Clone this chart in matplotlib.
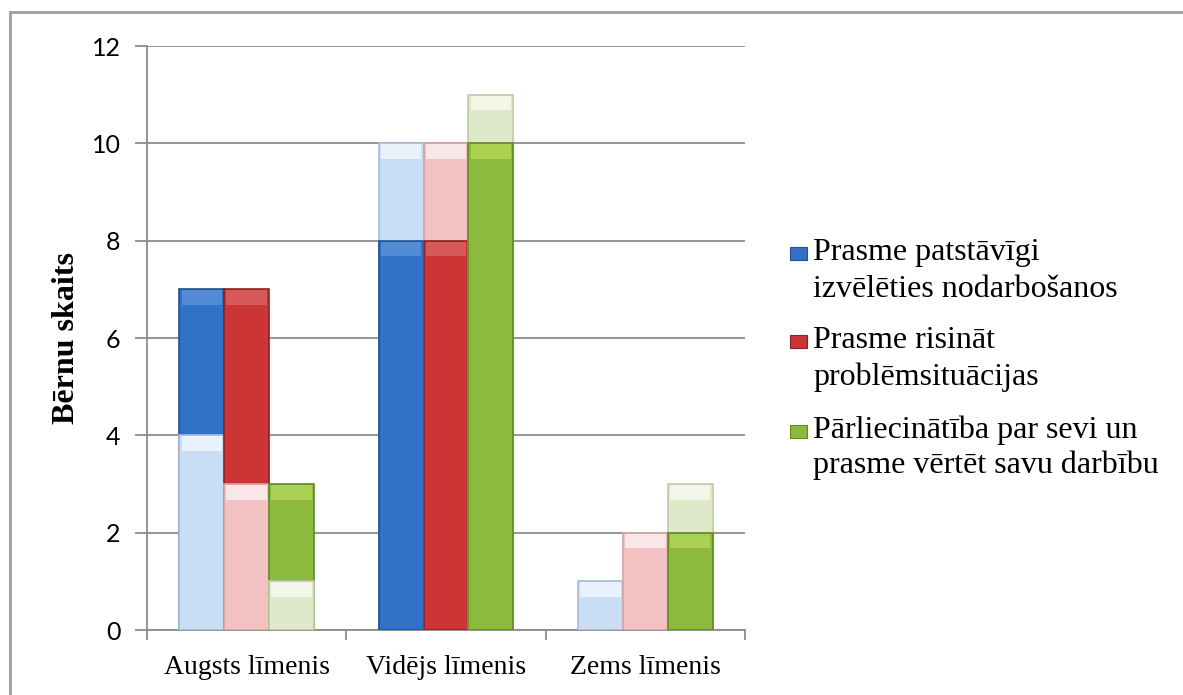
import numpy as np
import matplotlib.pyplot as plt
from matplotlib.patches import Rectangle
from matplotlib.lines import Line2D

# データ
kategorijas = ['Augsts līmenis', 'Vidējs līmenis', 'Zems līmenis']
serijas = ['Prasme patstāvīgi\nizvēlēties nodarbošanos',
           'Prasme risināt\nproblēmsituācijas',
           'Pārliecinātība par sevi un\nprasme vērtēt savu darbību']
# tumšā (pilnā) daļa un gaišā daļa katrai sērijai
zils_tumss = [7, 8, 0]
zils_gaiss = [4, 10, 1]
sarkans_tumss = [7, 8, 0]
sarkans_gaiss = [3, 10, 2]
zals_tumss = [3, 10, 2]
zals_gaiss = [1, 11, 3]
y_ticks = [0, 2, 4, 6, 8, 10, 12]

tumsie = [zils_tumss, sarkans_tumss, zals_tumss]
gaisie = [zils_gaiss, sarkans_gaiss, zals_gaiss]
krasas_t = ['#3172c6', '#cc3535', '#8cba3c']
krasas_g = ['#c9ddf5', '#f2c2c3', '#dfe9c9']
malas_t = ['#20508f', '#8f2020', '#5f8a22']
malas_g = ['#a9bcd4', '#d4a5a6', '#bfcaa8']
vaks_t = ['#6b9ee0', '#e07070', '#c2e060']
vaks_g = ['#ffffff', '#ffffff', '#ffffff']

fig = plt.figure(figsize=(11.83, 6.95), dpi=100)
ax = fig.add_axes([147/1183, 65/695, 598/1183, 584/695])

x = np.arange(len(kategorijas))
w = 0.225
for i in range(3):
    xi = x + (i - 1) * w
    for j in range(len(kategorijas)):
        t = tumsie[i][j]
        g = gaisie[i][j]
        stabi = [(t, krasas_t[i], malas_t[i], vaks_t[i]),
                 (g, krasas_g[i], malas_g[i], vaks_g[i])]
        stabi.sort(key=lambda s: -s[0])
        for h, c, e, v in stabi:
            if h <= 0:
                continue
            ax.bar(xi[j], h, w, color=c, edgecolor=e, linewidth=1.2, zorder=3)
            ax.bar(xi[j], 0.3, w * 0.9, bottom=h - 0.32, color=v, alpha=0.6,
                   linewidth=0, zorder=3)

ax.set_xlim(-0.5, 2.5)
ax.set_ylim(0, 12)
ax.set_yticks(y_ticks)
ax.set_yticklabels([str(v) for v in y_ticks], fontsize=18, family='Lato')
ax.yaxis.grid(True, color='#8c8c8c', linewidth=1.3, zorder=0)
ax.set_axisbelow(True)
ax.tick_params(axis='y', length=9, width=1.3, color='#8c8c8c', pad=10)

ax.set_xticks(x)
ax.set_xticklabels(kategorijas, fontsize=20, family='Liberation Serif')
ax.set_xticks([-0.5, 0.5, 1.5, 2.5], minor=True)
ax.tick_params(axis='x', which='major', length=0, pad=18)
ax.tick_params(axis='x', which='minor', length=7, width=1.3, color='#8c8c8c')

for s in ['top', 'right']:
    ax.spines[s].set_visible(False)
for s in ['left', 'bottom']:
    ax.spines[s].set_color('#8c8c8c')
    ax.spines[s].set_linewidth(1.3)

fig.text(66/1183, (695-338)/695, 'Bērnu skaits', rotation=90, ha='center',
         va='center', fontsize=23, fontweight='bold', family='Liberation Serif')

# leģenda
baselines = [(260, 297), (348, 385), (438, 473)]
for i in range(3):
    rindas = serijas[i].split('\n')
    b1, b2 = baselines[i]
    fig.patches.append(Rectangle((790/1183, (695-b1)/695), 17/1183, 13/695,
                                 transform=fig.transFigure, facecolor=krasas_t[i],
                                 edgecolor=malas_t[i], linewidth=0.8))
    fig.text(813/1183, (695-b1)/695, rindas[0], fontsize=23,
             family='Liberation Serif', va='baseline')
    fig.text(813/1183, (695-b2)/695, rindas[1], fontsize=23,
             family='Liberation Serif', va='baseline')

# rāmis
fig.add_artist(Line2D([10/1183, 10/1183], [0, 683/695], color='#a0a0a0', lw=2,
                      transform=fig.transFigure))
fig.add_artist(Line2D([10/1183, 1], [683/695, 683/695], color='#a0a0a0', lw=2,
                      transform=fig.transFigure))

fig.savefig('out.png', dpi=100)
